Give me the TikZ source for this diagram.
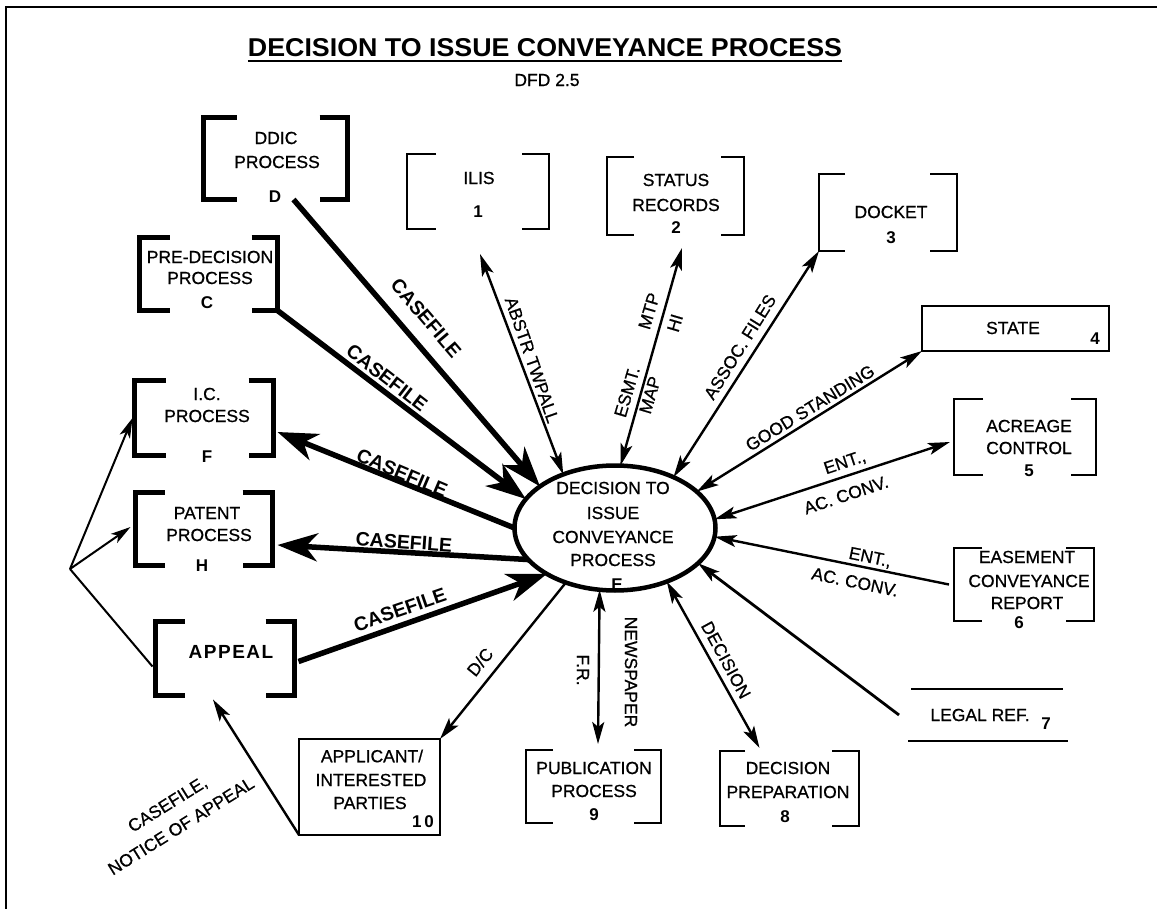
\documentclass[tikz,border=0pt]{standalone}
\usepackage{graphicx}
\usepackage{fontspec}
\setmainfont{Liberation Sans}
\newfontfamily\heavysans{Liberation Sans}[FakeBold=0.7]
\usetikzlibrary{arrows.meta,shapes.geometric}

% open-sided store/process frame: two square brackets around a named area node
\newcommand{\brackets}[4]{%
  \draw[#4] ([xshift=#2]#1.north west) -- (#1.north west) -- (#1.south west) -- ([xshift=#2]#1.south west);
  \draw[#4] ([xshift=-#3]#1.north east) -- (#1.north east) -- (#1.south east) -- ([xshift=-#3]#1.south east);
}

\begin{document}
\begin{tikzpicture}[x=1pt,y=-1pt,
  every node/.style={inner sep=0pt,outer sep=0pt},
  txt/.style={font=\fontsize{17.5}{21}\heavysans},
  tagtxt/.style={font=\fontsize{17}{20}\selectfont\bfseries},
  cflabel/.style={font=\fontsize{19.5}{22}\selectfont\bfseries},
  area/.style={rectangle,draw=none},
  thickbr/.style={line width=5pt},
  thinbr/.style={line width=2.2pt},
  thickflow/.style={line width=5.5pt,-{Stealth[length=40pt,width=28pt,inset=12pt]}},
  thinflow/.style={line width=2.4pt,-{Stealth[length=22pt,width=12pt,inset=5pt]}},
  thinboth/.style={line width=2.4pt,{Stealth[length=22pt,width=12pt,inset=5pt]}-{Stealth[length=22pt,width=12pt,inset=5pt]}},
  fanflow/.style={line width=2pt,-{Stealth[length=20pt,width=11pt,inset=5pt]}},
]
\useasboundingbox (0,0) rectangle (1157,909);
\fill[white] (0,0) rectangle (1157,909);

% page frame (left and top edges)
\draw[line width=2.5pt] (6,909) -- (6,7) -- (1157,7);

% heading
\node (title) at (545,48) {\resizebox{594pt}{18pt}{\bfseries DECISION TO ISSUE CONVEYANCE PROCESS}};
\draw[line width=2.5pt] ([yshift=-4pt]title.south west) -- ([yshift=-4pt]title.south east);
\node[txt] (dfd) at (547,80) {DFD 2.5};

% central process
\node[ellipse,draw,line width=4.5pt,minimum width=201pt,minimum height=125pt] (ell) at (615,528) {};
\node[txt] (ell-t1) at (613,488) {DECISION TO};
\node[txt] (ell-t2) at (613,513) {ISSUE};
\node[txt] (ell-t3) at (613,537) {CONVEYANCE};
\node[txt] (ell-t4) at (613,560) {PROCESS};
\node[tagtxt] (ell-t5) at (617,585) {E};

% heavy-bracket processes
\node[area,minimum width=144pt,minimum height=82pt] (ddic) at (275.5,158.5) {};
\brackets{ddic}{33pt}{28pt}{thickbr}
\node[txt] (ddic-t1) at (276,138) {DDIC};
\node[txt] (ddic-t2) at (277,162) {PROCESS};
\node[tagtxt] (ddic-t3) at (275,197) {D};

\node[area,minimum width=138pt,minimum height=73pt] (pre) at (208.5,274) {};
\brackets{pre}{30pt}{26pt}{thickbr}
\node[txt] (pre-t1) at (210,257) {PRE-DECISION};
\node[txt] (pre-t2) at (210,278) {PROCESS};
\node[tagtxt] (pre-t3) at (207,303) {C};

\node[area,minimum width=139pt,minimum height=75pt] (ic) at (204,418) {};
\brackets{ic}{31pt}{25pt}{thickbr}
\node[txt] (ic-t1) at (207,394) {I.C.};
\node[txt] (ic-t2) at (207,416) {PROCESS};
\node[tagtxt] (ic-t3) at (207,457) {F};

\node[area,minimum width=137pt,minimum height=73pt] (patent) at (204,529) {};
\brackets{patent}{29pt}{30pt}{thickbr}
\node[txt] (patent-t1) at (207,513) {PATENT};
\node[txt] (patent-t2) at (209,535) {PROCESS};
\node[tagtxt] (patent-t3) at (202,566) {H};

\node[area,minimum width=139pt,minimum height=74pt] (appeal) at (225,658.5) {};
\brackets{appeal}{29pt}{29pt}{thickbr}
\node[font=\fontsize{19}{22}\selectfont\bfseries\addfontfeature{LetterSpace=8}] (appeal-t1) at (231,652) {APPEAL};

% light-bracket stores and processes
\node[area,minimum width=142pt,minimum height=75pt] (ilis) at (478,191.5) {};
\brackets{ilis}{29pt}{27pt}{thinbr}
\node[txt] (ilis-t1) at (479,178) {ILIS};
\node[tagtxt] (ilis-t2) at (478,212) {1};

\node[area,minimum width=137pt,minimum height=78pt] (status) at (675.5,196) {};
\brackets{status}{27pt}{23pt}{thinbr}
\node[txt] (status-t1) at (676,180) {STATUS};
\node[txt] (status-t2) at (676,205) {RECORDS};
\node[tagtxt] (status-t3) at (676,228) {2};

\node[area,minimum width=138pt,minimum height=77pt] (docket) at (888,212.5) {};
\brackets{docket}{26pt}{27pt}{thinbr}
\node[txt] (docket-t1) at (891,212) {DOCKET};
\node[tagtxt] (docket-t2) at (891,238) {3};

\node[area,minimum width=142pt,minimum height=76pt] (acreage) at (1025,437) {};
\brackets{acreage}{29pt}{25pt}{thinbr}
\node[txt] (acreage-t1) at (1029,426) {ACREAGE};
\node[txt] (acreage-t2) at (1029,448) {CONTROL};
\node[tagtxt] (acreage-t3) at (1029,471) {5};

\node[area,minimum width=140pt,minimum height=73pt] (easement) at (1024,584.5) {};
\brackets{easement}{28pt}{28pt}{thinbr}
\node[txt] (easement-t1) at (1027,557) {EASEMENT};
\node[txt] (easement-t2) at (1029,581) {CONVEYANCE};
\node[txt] (easement-t3) at (1027,603) {REPORT};
\node[tagtxt] (easement-t4) at (1019,623) {6};

\node[area,minimum width=135pt,minimum height=73pt] (pub) at (593.5,786.5) {};
\brackets{pub}{27pt}{27pt}{thinbr}
\node[txt] (pub-t1) at (594,768) {PUBLICATION};
\node[txt] (pub-t2) at (594,791) {PROCESS};
\node[tagtxt] (pub-t3) at (594,815) {9};

\node[area,minimum width=139pt,minimum height=75pt] (decprep) at (789.5,788.5) {};
\brackets{decprep}{25pt}{27pt}{thinbr}
\node[txt] (decprep-t1) at (788,768) {DECISION};
\node[txt] (decprep-t2) at (788,792) {PREPARATION};
\node[tagtxt] (decprep-t3) at (785,817) {8};

% closed-box external entities
\node[area,draw,line width=2.5pt,minimum width=187pt,minimum height=45pt] (state) at (1015.5,328.5) {};
\node[txt] (state-t1) at (1013,328) {STATE};
\node[tagtxt] (state-t2) at (1095,339) {4};

\node[area,draw,line width=2.5pt,minimum width=141pt,minimum height=96pt] (appl) at (369.5,787) {};
\node[txt] (appl-t1) at (372,756) {APPLICANT/};
\node[txt] (appl-t2) at (371,780) {INTERESTED};
\node[txt] (appl-t3) at (370,803) {PARTIES};
\node[tagtxt] (appl-t4) at (423,822) {1\,0};

% data store drawn as two rules
\node[area,minimum width=160pt,minimum height=52pt] (legal) at (988,715) {};
\draw[line width=2.5pt] ([xshift=3pt]legal.north west) -- ([xshift=-5pt]legal.north east);
\draw[line width=2.5pt] (legal.south west) -- (legal.south east);
\node[txt] (legal-t1) at (980,715) {LEGAL REF.};
\node[tagtxt] (legal-t2) at (1046,724) {7};

% heavy case-file flows
\draw[thickflow] ([xshift=18pt]ddic.south) -- (ell.151.5);
\draw[thickflow] (pre.south east) -- (ell.162.8);
\draw[thickflow] (ell.180) -- ([shift={(4pt,-14pt)}]ic.east);
\draw[thickflow] (ell.-160.9) -- ([shift={(5pt,-16pt)}]patent.east);
\draw[thickflow] ([shift={(4pt,-3pt)}]appeal.east) -- (ell.-146.6);
\node[cflabel,rotate=-49.5] (lab-ddic) at (426,318) {CASEFILE};
\node[cflabel,rotate=-37.8] (lab-pre) at (387,378) {CASEFILE};
\node[cflabel,rotate=-23] (lab-ic) at (402,473) {CASEFILE};
\node[cflabel,rotate=-4] (lab-patent) at (404,542) {CASEFILE};
\node[cflabel,rotate=19] (lab-appeal) at (400,610) {CASEFILE};

% light flows
\draw[thinboth] ([shift={(2pt,-25pt)}]ilis.south) -- (ell.134);
\node[txt,rotate=-70.8] (lab-ilis) at (532,360) {ABSTR TWPALL};

\draw[thinboth] ([shift={(6.5pt,-13pt)}]status.south) -- (ell.85.8);
\node[txt,rotate=73.6] (lab-mtp) at (649,311) {MTP};
\node[txt,rotate=73.6] (lab-hi) at (675,323) {HI};
\node[txt,rotate=73.6] (lab-esmt) at (627,392) {ESMT.};
\node[txt,rotate=73.6] (lab-map) at (650,395) {MAP};

\draw[thinboth] (docket.south west) -- (ell.41.6);
\node[txt,rotate=58] (lab-docket) at (740,347) {ASSOC. FILES};

\draw[thinboth] (state.south west) -- (ell.24.9);
\node[txt,rotate=31.7] (lab-state) at (810,408) {GOOD STANDING};

\draw[thinboth] ([shift={(-4pt,-5pt)}]acreage.west) -- (ell.5);
\node[txt,rotate=18.4] (lab-acr1) at (845,463) {ENT.,};
\node[txt,rotate=18.4] (lab-acr2) at (846,495) {AC. CONV.};

\draw[thinflow] ([xshift=-5pt]easement.west) -- (ell.-5.4);
\node[txt,rotate=-11.6] (lab-eas1) at (870,558) {ENT.,};
\node[txt,rotate=-11.6] (lab-eas2) at (855,582) {AC. CONV.};

\draw[thinflow,line width=2.8pt] ([xshift=-9pt]legal.west) -- (ell.-23);

\draw[thinboth] (ell.-46.4) -- ([shift={(-30pt,3pt)}]decprep.north);
\node[txt,rotate=-61.6] (lab-dec) at (726,660) {DECISION};

\draw[thinboth] (ell.-104.2) -- ([shift={(4.5pt,6pt)}]pub.north);
\node[txt,rotate=-90] (lab-fr) at (583,670) {F.R.};
\node[txt,rotate=-90] (lab-news) at (631,672) {NEWSPAPER};

\draw[thinflow] (ell.-132.3) -- (appl.north east);
\node[txt,rotate=50.9] (lab-dc) at (480,662) {D/C};

\draw[thinflow] (appl.south west) -- ([shift={(-12pt,-4pt)}]appeal.south);
\node[txt,rotate=32] (lab-noa1) at (168,805) {CASEFILE,};
\node[txt,rotate=32] (lab-noa2) at (181,826) {NOTICE OF APPEAL};

% appeal outcomes fan
\coordinate (fan) at (70,569);
\draw[fanflow] (fan) -- ([xshift=-2pt]ic.west);
\draw[fanflow] (fan) -- ([shift={(-5pt,2pt)}]patent.west);
\draw[line width=2pt] (fan) -- ([shift={(-3pt,-8pt)}]appeal.west);
\end{tikzpicture}
\end{document}
